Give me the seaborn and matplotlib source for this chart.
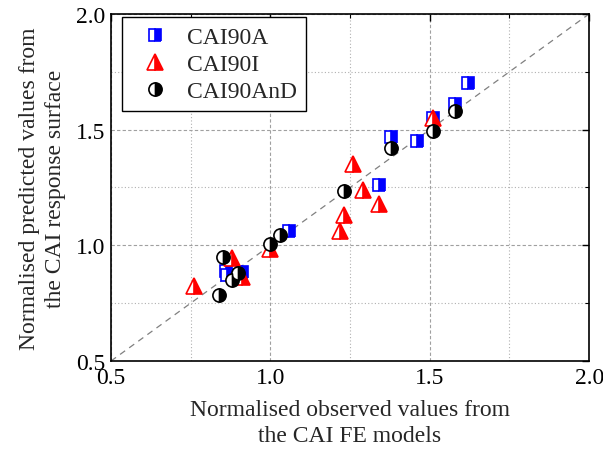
import numpy as np
import pandas as pd
import seaborn as sns
import matplotlib
matplotlib.use("Agg")
import matplotlib.pyplot as plt
from matplotlib import font_manager
from matplotlib.ticker import MultipleLocator

# Data
a_x = [1.62, 1.58, 1.51, 1.38, 1.46, 1.34, 1.06, 0.86, 0.91, 0.865]
a_y = [1.70, 1.61, 1.55, 1.47, 1.45, 1.26, 1.06, 0.89, 0.885, 0.87]
i_x = [1.51, 1.26, 1.29, 1.34, 1.23, 1.22, 1.00, 0.88, 0.91, 0.76]
i_y = [1.55, 1.35, 1.24, 1.18, 1.13, 1.06, 0.985, 0.945, 0.865, 0.825]
d_x = [1.58, 1.51, 1.38, 1.23, 1.03, 1.00, 0.85, 0.90, 0.88, 0.84]
d_y = [1.58, 1.495, 1.42, 1.235, 1.045, 1.005, 0.95, 0.88, 0.85, 0.785]
series_names = ["CAI90A", "CAI90I", "CAI90AnD"]
diag = [0.5, 2.0]

sns.set_theme(style="white")

serif_name = None
for f in font_manager.findSystemFonts():
    base = f.split("/")[-1].lower()
    if "liberationserif-regular" in base:
        font_manager.fontManager.addfont(f)
        serif_name = font_manager.FontProperties(fname=f).get_name()
        break
fams = ([serif_name] if serif_name else []) + ["Liberation Serif", "DejaVu Serif"]
plt.rcParams["font.family"] = fams

FS = 17

fig = plt.figure(figsize=(6.03, 4.52), dpi=100)
ax = fig.add_axes([0.184, 0.199, 0.793, 0.768])

ax.set_xlim(0.5, 2.0)
ax.set_ylim(0.5, 2.0)
ax.xaxis.set_major_locator(MultipleLocator(0.5))
ax.yaxis.set_major_locator(MultipleLocator(0.5))
ax.xaxis.set_minor_locator(MultipleLocator(0.25))
ax.yaxis.set_minor_locator(MultipleLocator(0.25))
ax.grid(True, which="major", color="#a0a0a0", linestyle=(0, (3, 2)), linewidth=0.8)
ax.grid(True, which="minor", color="#b0b0b0", linestyle=(0, (1, 2)), linewidth=0.8)
ax.set_axisbelow(True)

sns.lineplot(x=diag, y=diag, ax=ax, color="#808080", linestyle=(0, (5, 4)),
             linewidth=0.9, legend=False, zorder=2)

specs = [
    (a_x, a_y, "s", "blue", 8.5),
    (i_x, i_y, "^", "red", 11.5),
    (d_x, d_y, "o", "black", 9.5),
]
for (xs, ys, mk, col, ms), name in zip(specs, series_names):
    df = pd.DataFrame({"x": xs, "y": ys})
    sns.lineplot(data=df, x="x", y="y", ax=ax, sort=False, estimator=None,
                 marker=mk, linestyle="none", markersize=ms, color=col,
                 markerfacecolor=col, markeredgecolor=col, markeredgewidth=1.2,
                 fillstyle="right", markerfacecoloralt="white",
                 label=name, zorder=3)

leg = ax.legend(loc="upper left", bbox_to_anchor=(0.023, 0.99), fontsize=FS,
                frameon=True, fancybox=False, edgecolor="black",
                handletextpad=0.35, borderpad=0.4, labelspacing=0.22,
                handlelength=2.0, borderaxespad=0.0)
leg.get_frame().set_linewidth(1.0)
leg.get_frame().set_alpha(1.0)

for s in ax.spines.values():
    s.set_color("black")
    s.set_linewidth(1.2)

ax.tick_params(which="both", direction="in", top=True, right=True,
               colors="black", labelsize=FS)
ax.tick_params(which="major", length=5, width=1.0, pad=4)
ax.tick_params(which="minor", length=3, width=0.8)
ax.set_xticks([0.5, 1.0, 1.5, 2.0])
ax.set_xticklabels(["0.5", "1.0", "1.5", "2.0"])
ax.set_yticks([0.5, 1.0, 1.5, 2.0])
ax.set_yticklabels(["0.5", "1.0", "1.5", "2.0"])

ax.set_xlabel("Normalised observed values from\nthe CAI FE models", fontsize=FS,
              labelpad=8, linespacing=1.35)
ax.set_ylabel("Normalised predicted values from\nthe CAI response surface", fontsize=FS,
              labelpad=7, linespacing=1.35)

fig.savefig("out.png", dpi=100)
